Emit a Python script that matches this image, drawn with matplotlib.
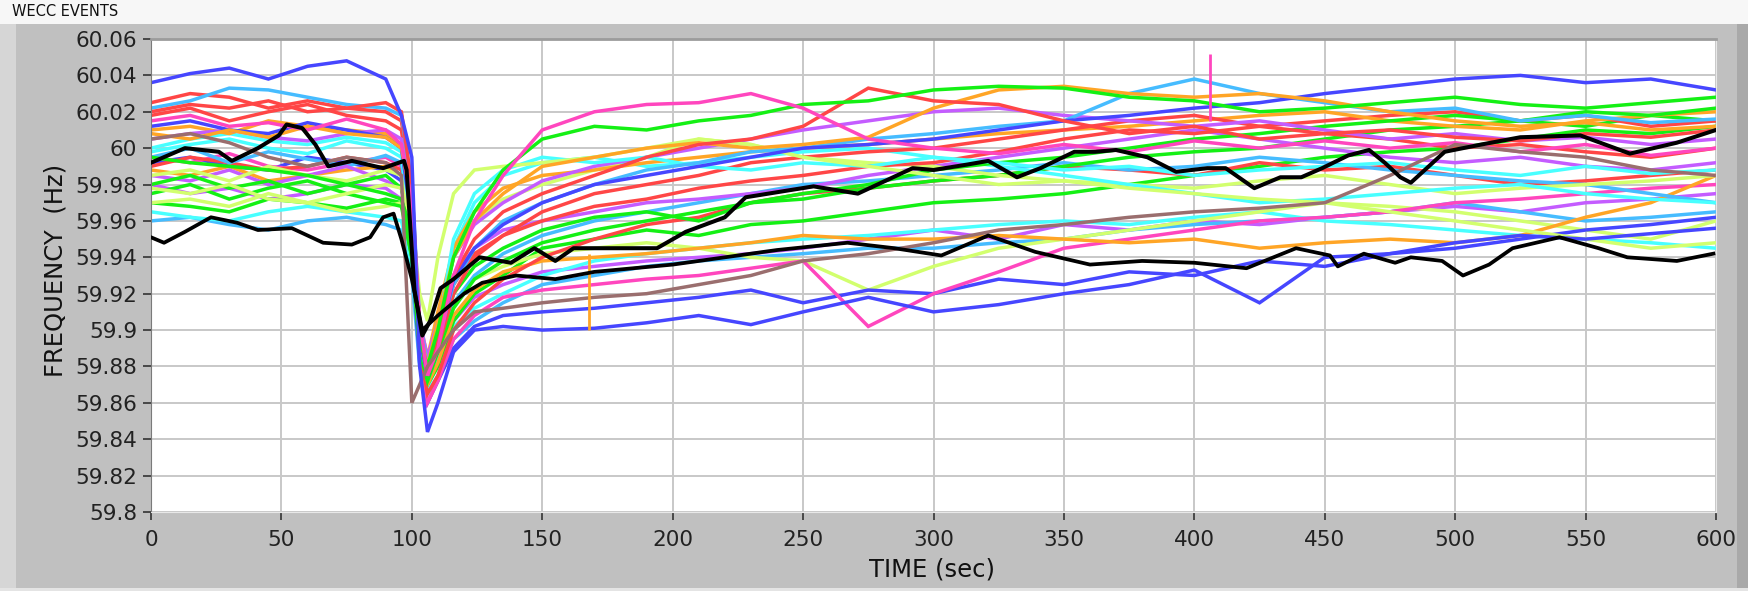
import matplotlib
matplotlib.use("Agg")
import matplotlib.pyplot as plt
from matplotlib.patches import Rectangle
from matplotlib.ticker import FuncFormatter, MultipleLocator
import numpy as np

# ---- sample times shared by the PMU traces (seconds) ----
t_grid = [0, 15, 30, 45, 60, 75, 90, 96, 100, 103, 106, 110, 116, 124, 135, 150,
          170, 190, 210, 230, 250, 275, 300, 325, 350, 375, 400, 425, 450, 475,
          500, 525, 550, 575, 600]

# ---- frequency deviation from 60 Hz, in mHz, per measurement point ----
blue_a = [36, 41, 44, 38, 45, 48, 38, 18, -5, -120, -156, -140, -112, -100, -98, -100,
          -99, -96, -92, -97, -90, -82, -90, -86, -80, -75, -67, -85, -60, -58,
          -52, -48, -50, -47, -44]
pink_a = [15, 18, 12, 14, 10, 16, 10, 2, -30, -95, -125, -110, -70, -40, -15, 10,
          20, 24, 25, 30, 22, 5, 0, -3, 2, -2, 4, 0, 4, 0, 3, -2, 2, -4, 0]
green_a = [-5, -8, -10, -12, -15, -20, -25, -28, -50, -105, -120, -100, -60, -35, -12, 5,
           12, 10, 15, 18, 24, 26, 32, 34, 33, 28, 26, 20, 22, 25, 28, 24, 22, 25, 28]
red_a = [20, 24, 22, 26, 20, 22, 25, 20, -20, -100, -125, -105, -70, -50, -35, -25,
         -15, -5, 2, 5, 12, 33, 26, 24, 15, 8, 12, 5, 8, 10, 6, 4, 8, 6, 10]
orange_a = [8, 5, 10, 6, 12, 8, 6, 0, -30, -100, -120, -95, -60, -40, -25, -10,
            -5, 0, 3, 0, 2, 6, 22, 32, 34, 30, 28, 30, 26, 20, 15, 12, 14, 10, 12]
purple_a = [-15, -18, -12, -20, -15, -10, -18, -22, -45, -100, -118, -100, -70, -55, -45, -40,
            -35, -30, -28, -25, -22, -15, -10, -5, 0, 5, 10, 5, 0, -5, -8, -5, -10, -12, -8]
purple_b = [5, 8, 10, 6, 4, 8, 10, 5, -25, -95, -115, -95, -60, -42, -30, -18,
            -10, -5, 0, 5, 10, 15, 20, 22, 18, 15, 12, 15, 10, 5, 8, 4, 6, 2, 5]
sky_a = [22, 26, 33, 32, 28, 24, 22, 18, -20, -95, -120, -105, -75, -55, -40, -30,
         -20, -12, -8, -2, 0, 5, 8, 12, 15, 30, 38, 30, 25, 20, 22, 15, 18, 14, 16]
cyan_a = [-2, 2, 5, 0, -3, 4, 0, -5, -40, -105, -125, -100, -50, -25, -12, -5,
          -8, -5, -10, -12, -8, -10, -5, -8, -12, -10, -15, -12, -10, -8, -12, -15, -10, -14, -12]
lime_a = [-22, -25, -20, -28, -30, -25, -20, -22, -40, -80, -95, -60, -25, -12, -10, -8,
          -5, 0, 5, 2, -5, -10, -15, -20, -18, -22, -25, -28, -30, -35, -40, -45, -50, -55, -52]
lime_b = [-30, -28, -32, -25, -30, -35, -32, -30, -55, -110, -125, -110, -85, -72, -65, -58,
          -55, -52, -55, -60, -62, -78, -65, -55, -50, -45, -40, -35, -30, -32, -35, -40, -45, -50, -40]
red_b = [-10, -5, -8, -12, -10, -5, -8, -12, -50, -110, -135, -125, -100, -85, -72, -60,
         -50, -42, -38, -30, -25, -22, -18, -15, -10, -12, -15, -8, -12, -10, -15, -20, -18, -15, -12]
red_c = [25, 30, 28, 22, 26, 22, 20, 15, -25, -100, -125, -110, -80, -60, -48, -35,
         -25, -20, -15, -8, -5, -2, 0, 5, 10, 15, 18, 12, 8, 5, 0, 2, -2, -5, 0]
green_b = [-30, -32, -35, -28, -30, -33, -28, -30, -60, -110, -130, -120, -95, -80, -70, -55,
           -50, -45, -48, -42, -40, -35, -30, -28, -25, -20, -15, -10, -5, -2, 0, 5, 10, 8, 12]
green_c = [-20, -15, -22, -18, -25, -20, -15, -22, -50, -105, -125, -110, -80, -65, -55, -45,
           -38, -35, -40, -30, -25, -20, -12, -8, -5, 0, 5, 8, 12, 15, 18, 15, 20, 18, 22]
orange_b = [-12, -15, -10, -18, -15, -12, -10, -15, -50, -110, -130, -118, -92, -78, -68, -62,
            -60, -58, -55, -52, -48, -50, -50, -48, -50, -52, -50, -55, -52, -50, -52, -48, -38, -30, -15]
orange_c = [10, 12, 8, 15, 12, 10, 8, 2, -30, -95, -115, -90, -55, -35, -22, -15,
            -12, -8, -5, -2, 0, 2, 5, 8, 10, 12, 15, 18, 20, 15, 12, 10, 15, 18, 20]
sky_b = [-40, -38, -42, -45, -40, -38, -42, -45, -70, -120, -135, -125, -105, -95, -85, -75,
         -70, -65, -62, -60, -58, -55, -55, -52, -50, -45, -42, -40, -38, -35, -30, -35, -40, -38, -35]
cyan_b = [-35, -38, -40, -35, -32, -35, -38, -40, -65, -115, -132, -118, -98, -88, -80, -70,
          -62, -58, -55, -52, -50, -48, -45, -42, -40, -42, -38, -35, -40, -42, -45, -48, -50, -52, -55]
brown_a = [5, 8, 3, -5, -10, -5, -8, -15, -140, -130, -120, -112, -100, -90, -88, -85,
           -82, -80, -75, -70, -62, -58, -52, -45, -42, -38, -35, -33, -30, -15, 2, -2, -5, -12, -15]
pink_b = [-5, -8, -3, -10, -12, -8, -5, -10, -55, -110, -140, -128, -105, -92, -82, -78,
          -75, -72, -70, -66, -62, -98, -80, -68, -55, -50, -45, -40, -38, -35, -30, -28, -25, -22, -20]
blue_b = [-8, -5, -10, -12, -5, -8, -12, -18, -60, -118, -140, -128, -110, -98, -92, -90,
          -88, -85, -82, -78, -85, -78, -80, -72, -75, -68, -70, -62, -65, -58, -55, -50, -45, -42, -38]
blue_c = [12, 15, 10, 8, 14, 10, 6, 0, -40, -105, -125, -108, -72, -55, -42, -30,
          -20, -15, -10, -5, 0, 2, 5, 10, 15, 18, 22, 25, 30, 34, 38, 40, 36, 38, 32]
sky_c = [-5, 0, -8, -2, -6, -10, -4, -8, -45, -105, -128, -112, -85, -70, -58, -48,
         -40, -35, -30, -25, -20, -18, -15, -12, -8, -12, -10, -5, -8, -12, -15, -18, -20, -25, -30]
purple_c = [-20, -25, -22, -28, -25, -20, -22, -28, -55, -112, -130, -118, -95, -82, -75, -68,
            -65, -62, -60, -58, -55, -50, -45, -50, -42, -45, -40, -42, -38, -35, -32, -35, -30, -28, -25]
red_d = [18, 22, 15, 20, 24, 18, 15, 10, -30, -100, -122, -105, -75, -58, -48, -40,
         -32, -28, -22, -18, -15, -10, -8, -2, 5, 10, 8, 12, 15, 18, 20, 15, 18, 12, 15]
green_d = [-25, -20, -28, -22, -18, -25, -30, -32, -60, -112, -128, -112, -88, -72, -62, -52,
           -45, -40, -35, -30, -28, -22, -18, -15, -10, -5, -2, 0, 5, 10, 12, 15, 12, 18, 15]
cyan_c = [0, 5, 8, 4, 2, 6, 3, -2, -35, -100, -120, -95, -55, -30, -15, -8,
          -5, -10, -8, -5, -2, 0, -5, -10, -15, -20, -25, -30, -28, -25, -22, -20, -25, -28, -30]
lime_c = [-15, -12, -18, -10, -15, -18, -12, -15, -40, -95, -118, -95, -60, -40, -28, -20,
          -12, -5, 5, 2, -5, -8, -10, -15, -18, -20, -22, -18, -15, -20, -25, -22, -20, -18, -15]

# ---- the two reference traces drawn in black ----
black_main_t = [0, 13, 26, 31, 41, 49, 52, 58, 63, 68, 77, 89, 97, 98, 101, 104, 107, 111,
                116, 121, 126, 138, 147, 155, 162, 185, 194, 205, 220, 228, 241, 254,
                271, 280, 292, 300, 313, 321, 332, 341, 354, 362, 370, 382, 393, 405,
                412, 421, 423, 433, 441, 449, 459, 467, 473, 479, 483, 496, 510, 525,
                548, 567, 585, 600]
black_main_v = [-8, 0, -2, -7, 0, 7, 13, 11, 2, -10, -7, -11, -7, -12, -78, -103, -95, -77,
                -72, -66, -60, -63, -55, -62, -55, -55, -55, -46, -38, -27, -24, -21,
                -25, -19, -11, -12, -9, -7, -16, -11, -2, -2, -1, -5, -13, -11,
                -11, -20, -22, -16, -16, -11, -4, -1, -8, -16, -19, -2, 2, 6,
                7, -3, 3, 10]
black_low_t = [0, 5, 13, 23, 33, 41, 54, 66, 77, 84, 89, 93, 96, 100, 104, 110, 120, 127,
               140, 155, 170, 185, 200, 220, 240, 267, 285, 303, 321, 339, 360, 380,
               400, 420, 439, 452, 455, 465, 477, 483, 495, 503, 513, 522, 540, 555,
               566, 585, 599]
black_low_v = [-49, -52, -46, -38, -41, -45, -44, -52, -53, -49, -38, -36, -50, -72, -100,
               -92, -80, -74, -70, -72, -68, -66, -64, -60, -56, -52, -55, -59, -48, -57,
               -64, -62, -63, -66, -55, -59, -65, -58, -63, -60, -62, -70, -64, -55, -49,
               -55, -60, -62, -58]

# ---- short glitches recorded on single channels ----
glitch_t = [168, 406]
glitch_lo = [-100, 15]
glitch_hi = [-58, 52]

BLUE, RED, GREEN, CYAN = "#4646ff", "#ff4646", "#14f014", "#48ffff"
PINK, ORANGE, PURPLE = "#ff46be", "#ffa526", "#c45cff"
SKY, LIME, BROWN = "#46bcff", "#d2ff6e", "#9a6e6e"

traces = [
    (purple_c, PURPLE), (sky_b, SKY), (cyan_b, CYAN), (green_b, GREEN),
    (lime_b, LIME), (blue_b, BLUE), (pink_b, PINK), (orange_b, ORANGE),
    (red_b, RED), (sky_c, SKY), (green_d, GREEN), (purple_a, PURPLE),
    (lime_c, LIME), (cyan_c, CYAN), (red_d, RED), (orange_c, ORANGE),
    (green_c, GREEN), (red_c, RED), (purple_b, PURPLE), (cyan_a, CYAN),
    (lime_a, LIME), (sky_a, SKY), (blue_c, BLUE), (orange_a, ORANGE),
    (red_a, RED), (green_a, GREEN), (pink_a, PINK), (brown_a, BROWN),
    (blue_a, BLUE),
]
glitch_colors = [ORANGE, PINK]

W, H = 1748, 591
fig = plt.figure(figsize=(W / 100, H / 100), dpi=100)
fig.patch.set_facecolor("#c0c0c0")

# window chrome: white caption strip, light left edge, side bar, bottom rim
fig.patches.append(Rectangle((0, 1 - 24 / H), 1, 24 / H, transform=fig.transFigure,
                             facecolor="#f7f7f7", edgecolor="none", zorder=0))
fig.patches.append(Rectangle((0, 0), 16 / W, 1 - 24 / H, transform=fig.transFigure,
                             facecolor="#d6d6d6", edgecolor="none", zorder=0))
fig.patches.append(Rectangle((1737 / W, 0), 11 / W, 1 - 24 / H, transform=fig.transFigure,
                             facecolor="#a9a9a9", edgecolor="none", zorder=0))
fig.patches.append(Rectangle((0, 0), 1, 3 / H, transform=fig.transFigure,
                             facecolor="#e4e4e4", edgecolor="none", zorder=0))
fig.text(12 / W, 1 - 12 / H, "WECC EVENTS", fontsize=10.5, color="#111111",
         ha="left", va="center")

ax = fig.add_axes([151 / W, 1 - 512 / H, (1716 - 151) / W, (512 - 39) / H])
ax.set_facecolor("white")

to_hz = lambda dev: 60.0 + np.asarray(dev, dtype=float) / 1000.0

for vals, col in traces:
    ax.plot(t_grid, to_hz(vals), color=col, lw=2.5, solid_joinstyle="miter", zorder=2)
ax.vlines(glitch_t, to_hz(glitch_lo), to_hz(glitch_hi), colors=glitch_colors, lw=2.0, zorder=2)
ax.plot(black_low_t, to_hz(black_low_v), color="black", lw=2.7, zorder=3)
ax.plot(black_main_t, to_hz(black_main_v), color="black", lw=2.9, zorder=4)

ax.set_xlim(0, 600)
ax.set_ylim(59.8, 60.06)
ax.xaxis.set_major_locator(MultipleLocator(50))
ax.yaxis.set_major_locator(MultipleLocator(0.02))
ax.yaxis.set_major_formatter(FuncFormatter(lambda v, p: f"{round(v, 2):g}"))
ax.grid(True, color="#c8c8c8", lw=1.4, zorder=0)
ax.set_axisbelow(True)

ax.tick_params(axis="both", direction="out", length=6, width=1.2, color="#333333",
               labelsize=15.5, labelcolor="#222222")
ax.tick_params(axis="x", pad=7)
ax.tick_params(axis="y", pad=4)

ax.spines["left"].set_color("#7a7a7a")
ax.spines["top"].set_color("#9c9c9c")
ax.spines["top"].set_linewidth(2)
ax.spines["right"].set_color("#e8e8e8")
ax.spines["bottom"].set_color("#e8e8e8")

fig.text(932 / W, 1 - 570 / H, "TIME (sec)", fontsize=17.5, color="#111111",
         ha="center", va="center")
fig.text(56 / W, 1 - 270 / H, "FREQUENCY  (Hz)", fontsize=17.5, color="#111111",
         ha="center", va="center", rotation=90)

fig.savefig("out.png", dpi=100, facecolor=fig.get_facecolor())
